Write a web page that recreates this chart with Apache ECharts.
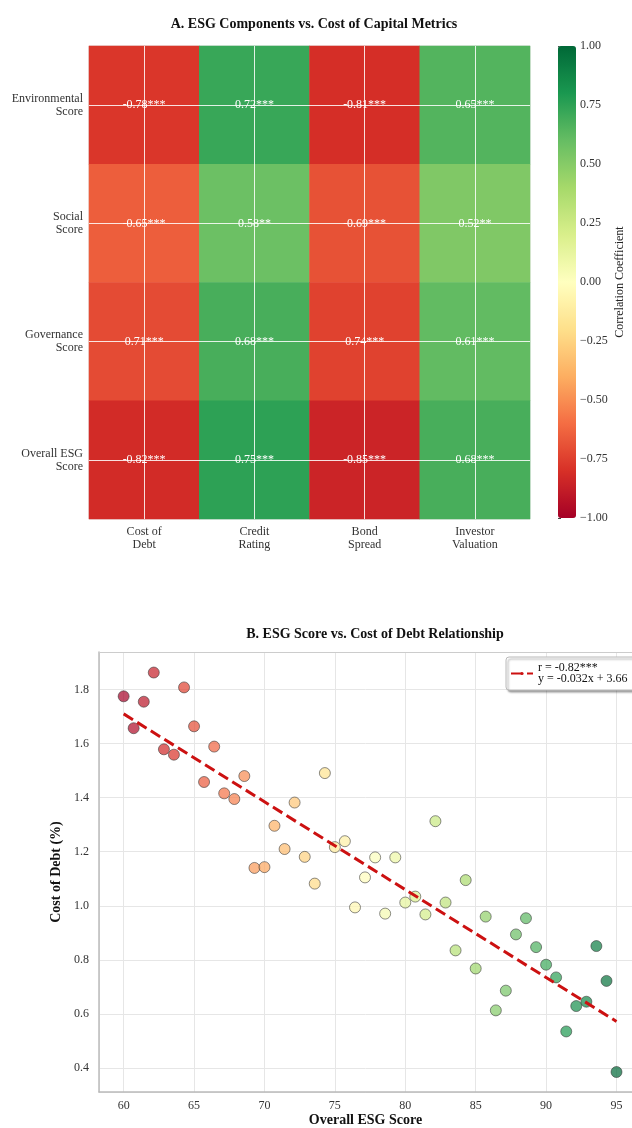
<!DOCTYPE html>
<html><head><meta charset="utf-8">
<script src="https://cdn.jsdelivr.net/npm/echarts@6/dist/echarts.min.js"></script>
<style>html,body{margin:0;padding:0;background:#fff}#c{width:632px;height:1128px}</style>
</head><body><div id="c"></div>
<script>
// ---- Panel A data ----
const esgComponents = ['Environmental\nScore', 'Social\nScore', 'Governance\nScore', 'Overall ESG\nScore'];
const costMetrics = ['Cost of\nDebt', 'Credit\nRating', 'Bond\nSpread', 'Investor\nValuation'];
const envCorr = [-0.78, 0.72, -0.81, 0.65];
const socialCorr = [-0.65, 0.58, -0.69, 0.52];
const govCorr = [-0.71, 0.68, -0.74, 0.61];
const overallCorr = [-0.82, 0.75, -0.85, 0.68];
// cell annotations exactly as printed in the chart
const envText = ['-0.78***', '0.72***', '-0.81***', '0.65***'];
const socialText = ['-0.65***', '0.58**', '-0.69***', '0.52**'];
const govText = ['0.71***', '0.68***', '0.74***', '0.61***'];
const overallText = ['-0.82***', '0.75***', '-0.85***', '0.68***'];

// ---- Panel B data ----
const esgScore = [60.00, 60.71, 61.43, 62.14, 62.86, 63.57, 64.29, 65.00, 65.71, 66.43,
  67.14, 67.86, 68.57, 69.29, 70.00, 70.71, 71.43, 72.14, 72.86, 73.57,
  74.29, 75.00, 75.71, 76.43, 77.14, 77.86, 78.57, 79.29, 80.00, 80.71,
  81.43, 82.14, 82.86, 83.57, 84.29, 85.00, 85.71, 86.43, 87.14, 87.86,
  88.57, 89.29, 90.00, 90.71, 91.43, 92.14, 92.86, 93.57, 94.29, 95.00];
const costOfDebt = [1.775, 1.657, 1.755, 1.863, 1.579, 1.559, 1.808, 1.664, 1.458, 1.589,
  1.416, 1.395, 1.480, 1.140, 1.143, 1.296, 1.210, 1.382, 1.181, 1.082,
  1.491, 1.217, 1.239, 0.994, 1.105, 1.179, 0.971, 1.179, 1.012, 1.034,
  0.968, 1.313, 1.012, 0.835, 1.095, 0.768, 0.960, 0.613, 0.686, 0.894,
  0.954, 0.847, 0.782, 0.735, 0.535, 0.629, 0.645, 0.851, 0.722, 0.385];
const trendX = [60, 95];
const trendY = [1.71, 0.572];
const legendLabel = 'r = -0.82***\ny = -0.032x + 3.66';

const RdYlGn = ['#a50026','#d73027','#f46d43','#fdae61','#fee08b','#ffffbf','#d9ef8b','#a6d96a','#66bd63','#1a9850','#006837'];
const FONT = 'Liberation Serif';

const corrRows = [envCorr, socialCorr, govCorr, overallCorr];
const textRows = [envText, socialText, govText, overallText];
const heatData = [];
corrRows.forEach((row, r) => row.forEach((v, c) => heatData.push([c, r, v, textRows[r][c]])));
const scatterData = esgScore.map((x, i) => [x, costOfDebt[i]]);
const trendData = trendX.map((x, i) => [x, trendY[i]]);

const fmtCbar = v => (v < 0 ? '\u2212' + (-v).toFixed(2) : v.toFixed(2));
const gridLineStyle = {color: 'rgba(255,255,255,0.85)', width: 1, type: 'solid'};
// visible x-extent of panel B (plot continues past the right edge of the image)
const X_MIN = 58.25, X_MAX = 96.1, Y_MIN = 0.311, Y_MAX = 1.939;

const chart = echarts.init(document.getElementById('c'), null, {renderer: 'canvas'});
chart.setOption({
  backgroundColor: '#fff',
  animation: false,
  textStyle: {fontFamily: FONT},
  title: [
    {text: 'A. ESG Components vs. Cost of Capital Metrics', left: 309, top: 12, textAlign: 'center',
     textStyle: {fontFamily: FONT, fontSize: 14, fontWeight: 'bold', color: '#111'}},
    {text: 'B. ESG Score vs. Cost of Debt Relationship', left: 370, top: 622, textAlign: 'center',
     textStyle: {fontFamily: FONT, fontSize: 14, fontWeight: 'bold', color: '#111'}}
  ],
  grid: [
    {left: 89, top: 46, width: 441, height: 473, show: true, borderColor: '#ddd', borderWidth: 1},
    {left: 99, top: 652, right: 0, height: 441, show: false},
    {left: 558, top: 46, width: 18, height: 472}
  ],
  xAxis: [
    {type: 'category', gridIndex: 0, data: costMetrics, axisLine: {show: false}, axisTick: {show: false},
     splitLine: {show: false},
     axisLabel: {fontFamily: FONT, fontSize: 12, color: '#333', lineHeight: 13, margin: 6}},
    {type: 'value', gridIndex: 1, min: X_MIN, max: X_MAX, minInterval: 5, maxInterval: 5,
     name: 'Overall ESG Score', nameLocation: 'middle', nameGap: 21,
     nameTextStyle: {fontFamily: FONT, fontSize: 14, fontWeight: 'bold', color: '#111'},
     axisLine: {show: true, lineStyle: {color: '#bbb', width: 1.5}}, axisTick: {show: false},
     splitLine: {show: true, lineStyle: {color: '#e6e6e6', width: 1}},
     axisLabel: {fontFamily: FONT, fontSize: 12, color: '#333', margin: 8, showMinLabel: false, showMaxLabel: false}},
    {type: 'value', gridIndex: 2, show: false, min: 0, max: 1},
    {type: 'value', gridIndex: 1, position: 'top', min: X_MIN, max: X_MAX,
     axisLine: {show: true, lineStyle: {color: '#ccc', width: 1.2}}, axisTick: {show: false},
     axisLabel: {show: false}, splitLine: {show: false}}
  ],
  yAxis: [
    {type: 'category', gridIndex: 0, data: esgComponents, inverse: true, axisLine: {show: false},
     axisTick: {show: false}, splitLine: {show: false},
     axisLabel: {fontFamily: FONT, fontSize: 12, color: '#333', lineHeight: 13, margin: 6, align: 'right'}},
    {type: 'value', gridIndex: 1, min: Y_MIN, max: Y_MAX, minInterval: 0.2, maxInterval: 0.2,
     name: 'Cost of Debt (%)', nameLocation: 'middle', nameGap: 19, nameRotate: 90,
     nameTextStyle: {fontFamily: FONT, fontSize: 14, fontWeight: 'bold', color: '#111'},
     axisLine: {show: true, lineStyle: {color: '#bbb', width: 1.5}}, axisTick: {show: false},
     splitLine: {show: true, lineStyle: {color: '#e6e6e6', width: 1}},
     axisLabel: {fontFamily: FONT, fontSize: 12, color: '#333', margin: 10, showMinLabel: false, showMaxLabel: false,
                 formatter: v => v.toFixed(1)}},
    {type: 'value', gridIndex: 2, min: -1, max: 1, interval: 0.25, position: 'right',
     name: 'Correlation Coefficient', nameLocation: 'middle', nameGap: 38, nameRotate: 90,
     nameTextStyle: {fontFamily: FONT, fontSize: 12, color: '#222'},
     axisLine: {show: false}, axisTick: {show: true, length: 3, lineStyle: {color: '#444'}},
     splitLine: {show: false},
     axisLabel: {fontFamily: FONT, fontSize: 12, color: '#333', margin: 4, formatter: fmtCbar}}
  ],
  visualMap: [
    {type: 'continuous', seriesIndex: 0, dimension: 2, min: -1, max: 1, orient: 'vertical',
     left: 558, top: 46, itemWidth: 18, itemHeight: 472, padding: 0, calculable: false, hoverLink: false,
     text: null, showLabel: false, inRange: {color: RdYlGn}, borderWidth: 0,
     indicatorSize: 0, indicatorStyle: {opacity: 0}},
    {type: 'continuous', show: false, seriesIndex: 1, dimension: 0, min: 60, max: 95, inRange: {color: RdYlGn}}
  ],
  legend: {
    data: [legendLabel], left: 506, top: 657, orient: 'vertical',
    backgroundColor: '#fff', borderColor: '#bbb', borderWidth: 1, borderRadius: 3,
    shadowColor: 'rgba(0,0,0,0.35)', shadowBlur: 2, shadowOffsetX: 2, shadowOffsetY: 2,
    padding: [5, 20, 5, 4], itemWidth: 22, itemHeight: 4, itemGap: 4,
    textStyle: {fontFamily: FONT, fontSize: 12, color: '#111', lineHeight: 11},
    selectedMode: false
  },
  series: [
    {type: 'heatmap', xAxisIndex: 0, yAxisIndex: 0, data: heatData, silent: true,
     label: {show: true, color: '#fff', fontFamily: FONT, fontSize: 12,
             formatter: p => p.value[3]},
     itemStyle: {borderWidth: 0},
     markLine: {silent: true, symbol: ['none', 'none'], label: {show: false}, lineStyle: gridLineStyle,
       data: costMetrics.map(m => ({xAxis: m})).concat(esgComponents.map(e => ({yAxis: e})))}},
    {type: 'scatter', xAxisIndex: 1, yAxisIndex: 1, data: scatterData, symbolSize: 11, silent: true,
     itemStyle: {opacity: 0.7, borderColor: '#333', borderWidth: 0.8}, z: 2},
    {type: 'line', name: legendLabel, xAxisIndex: 1, yAxisIndex: 1, data: trendData, showSymbol: false,
     symbol: 'none', silent: true, z: 3,
     lineStyle: {color: '#cc1111', width: 3, type: [11, 5]}, itemStyle: {color: '#cc1111'}}
  ]
});
</script></body></html>
